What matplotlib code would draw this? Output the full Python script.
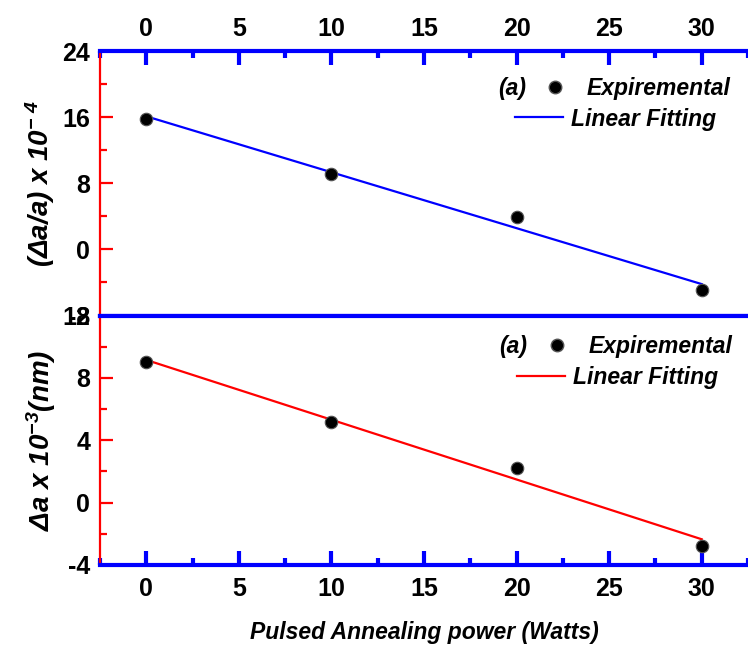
import matplotlib
matplotlib.use("Agg")
import matplotlib.pyplot as plt
from matplotlib.ticker import MultipleLocator
from matplotlib.lines import Line2D

FONT = ["Liberation Sans", "DejaVu Sans"]
plt.rcParams["font.family"] = FONT
plt.rcParams["font.weight"] = "bold"
plt.rcParams["axes.unicode_minus"] = False
plt.rcParams["mathtext.fontset"] = "custom"
plt.rcParams["mathtext.rm"] = "Liberation Sans:bold:italic"
plt.rcParams["mathtext.it"] = "Liberation Sans:bold:italic"
plt.rcParams["mathtext.bf"] = "Liberation Sans:bold:italic"

# data
power = [0, 10, 20, 30]
strain = [15.8, 9.1, 3.9, -4.9]          # (delta a / a) x 10^-4
strain_fit_x = [0, 30]
strain_fit_y = [16.1, -4.2]
delta_a = [9.0, 5.2, 2.2, -2.8]          # delta a x 10^-3 nm
delta_fit_x = [0, 30]
delta_fit_y = [9.15, -2.35]

BLUE = "#0000ff"
RED = "#ff0000"
LEG_PROP = {"family": FONT, "weight": "bold", "style": "italic", "size": 16.5}

fig = plt.figure(figsize=(7.48, 6.46), dpi=100)
ax1 = fig.add_axes([0.1337, 0.5116, 0.8663, 0.4094])
ax2 = fig.add_axes([0.1337, 0.1254, 0.8663, 0.3862])


def style(ax, top):
    ax.set_xlim(-2.5, 32.5)
    ax.xaxis.set_major_locator(MultipleLocator(5))
    ax.xaxis.set_minor_locator(MultipleLocator(2.5))
    for s in ("top", "bottom"):
        ax.spines[s].set_color(BLUE)
        ax.spines[s].set_linewidth(3)
    ax.spines["left"].set_color(RED)
    ax.spines["left"].set_linewidth(1.6)
    ax.spines["right"].set_visible(False)
    ax.tick_params(axis="x", which="both", direction="in", colors=BLUE,
                   top=top, bottom=not top, labeltop=top, labelbottom=not top,
                   labelcolor="black", labelsize=18)
    ax.tick_params(axis="x", which="major", length=10, width=3,
                   pad=7 if top else 9)
    ax.tick_params(axis="x", which="minor", length=5, width=3)
    ax.tick_params(axis="y", which="both", direction="in", colors=RED,
                   labelcolor="black", labelsize=18, right=False)
    ax.tick_params(axis="y", which="major", length=9, width=1.6, pad=7)
    ax.tick_params(axis="y", which="minor", length=5, width=1.6)
    for lab in ax.get_xticklabels() + ax.get_yticklabels():
        lab.set_fontweight("bold")


def add_legend(ax, col, row1_y, row2_y, mark_x, line_x, a_x):
    h1 = [Line2D([], [], ls="none", marker="o", color="black", mec="#555555", ms=9)]
    h2 = [Line2D([], [], color=col, lw=1.6)]
    leg1 = ax.legend(h1, ["Expiremental"], loc="center left",
                     bbox_to_anchor=(mark_x, row1_y), frameon=False,
                     handlelength=1.0, handletextpad=0.9, borderpad=0,
                     borderaxespad=0, prop=LEG_PROP)
    ax.add_artist(leg1)
    ax.legend(h2, ["Linear Fitting"], loc="center left",
              bbox_to_anchor=(line_x, row2_y), frameon=False,
              handlelength=2.1, handletextpad=0.35, borderpad=0,
              borderaxespad=0, prop=LEG_PROP)
    ax.text(a_x, row1_y, "(a)", transform=ax.transAxes, fontsize=16.5,
            fontstyle="italic", fontweight="bold", ha="center", va="center")


# top panel
style(ax1, True)
ax1.set_ylim(-8, 24)
ax1.yaxis.set_major_locator(MultipleLocator(8))
ax1.yaxis.set_minor_locator(MultipleLocator(4))
ax1.plot(strain_fit_x, strain_fit_y, color=BLUE, lw=1.6)
ax1.plot(power, strain, "o", color="black", mec="#555555", mew=0.8, ms=9)
ax1.set_ylabel("(Δa/a) x 10$^{-\\ 4}$", fontsize=20, fontstyle="italic",
               fontweight="bold", labelpad=4)
add_legend(ax1, BLUE, 0.860, 0.743, 0.684, 0.640, 0.636)

# bottom panel
style(ax2, False)
ax2.set_ylim(-4, 12)
ax2.yaxis.set_major_locator(MultipleLocator(4))
ax2.yaxis.set_minor_locator(MultipleLocator(2))
ax2.plot(delta_fit_x, delta_fit_y, color=RED, lw=1.6)
ax2.plot(power, delta_a, "o", color="black", mec="#555555", mew=0.8, ms=9)
ax2.set_ylabel("Δa x 10$^{-3}$(nm)", fontsize=20, fontstyle="italic",
               fontweight="bold", labelpad=3)
ax2.set_xlabel("Pulsed Annealing power (Watts)", fontsize=16.5,
               fontstyle="italic", fontweight="bold", labelpad=14)
add_legend(ax2, RED, 0.875, 0.751, 0.687, 0.644, 0.638)

fig.savefig("out.png", dpi=100)
